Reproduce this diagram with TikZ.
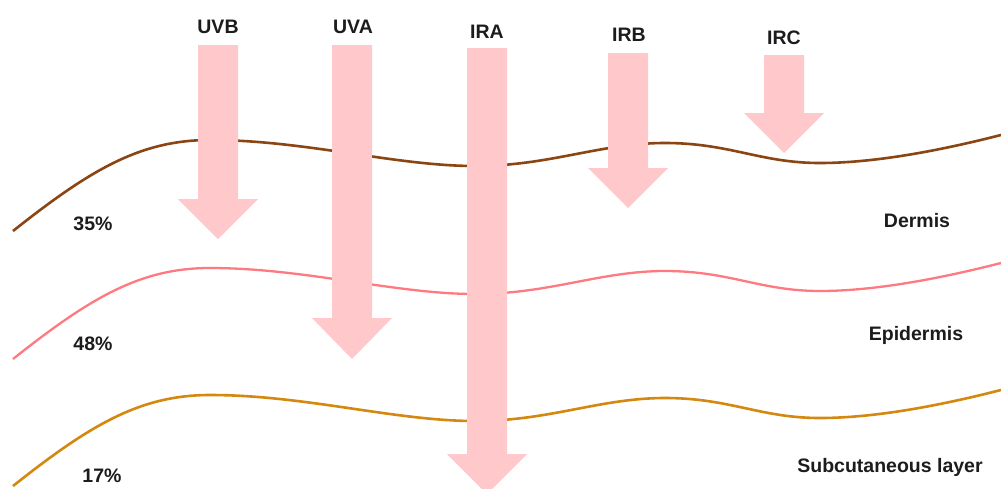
\documentclass[tikz,border=0pt]{standalone}
\usepackage{fontspec}
\setmainfont{Liberation Sans}
\definecolor{brownline}{HTML}{8A4513}
\definecolor{pinkline}{HTML}{FF7A80}
\definecolor{orangeline}{HTML}{D4880F}
\definecolor{beamfill}{HTML}{FFC8CA}
\definecolor{txt}{HTML}{1C1C1C}
\newcommand\skinpath{(13,231) .. controls (90,170) and (140,140) .. (210,140)
  .. controls (305,140) and (395,166) .. (475,166)
  .. controls (550,166) and (600,143) .. (665,143)
  .. controls (730,143) and (760,163) .. (820,163)
  .. controls (880,163) and (950,148) .. (1001,135)}
% \beamshape{center x}{top y}{head base y}{tip y}
\newcommand\beamshape[4]{%
  \fill[beam] (#1-20,#2) -- (#1+20,#2) -- (#1+20,#3) -- (#1+40,#3) -- (#1,#4)
    -- (#1-40,#3) -- (#1-20,#3) -- cycle;}
\begin{document}
\begin{tikzpicture}[x=1pt,y=-1pt,
  layerline/.style={line width=2.6pt},
  beam/.style={fill=beamfill},
  lbl/.style={anchor=base,inner sep=0pt,text=txt,font=\fontsize{19.5}{22}\selectfont\bfseries}]
\useasboundingbox (0,0) rectangle (1001,488);
\fill[white] (0,0) rectangle (1001,488);
% layer boundaries
\draw[layerline,brownline] \skinpath;
\draw[layerline,pinkline,line width=2.3pt,shift={(0,128)}] \skinpath;
\draw[layerline,orangeline,shift={(0,255)}] \skinpath;
% radiation beams
\beamshape{218}{45}{199}{239}
\beamshape{352}{45}{318}{359}
\beamshape{487}{48}{454}{494}
\beamshape{628}{53}{168}{208}
\beamshape{784}{55}{113}{153}
% labels
\node[lbl] (uvb) at (218,33) {UVB};
\node[lbl] (uva) at (353,33) {UVA};
\node[lbl] (ira) at (487,38) {IRA};
\node[lbl] (irb) at (629,41) {IRB};
\node[lbl] (irc) at (784,44) {IRC};
\node[lbl] (p35) at (93,230) {35\%};
\node[lbl] (p48) at (93,350) {48\%};
\node[lbl] (p17) at (102,482) {17\%};
\node[lbl] (dermis) at (917,227) {Dermis};
\node[lbl] (epi) at (916,340) {Epidermis};
\node[lbl] (sub) at (890,472) {Subcutaneous layer};
\end{tikzpicture}
\end{document}
